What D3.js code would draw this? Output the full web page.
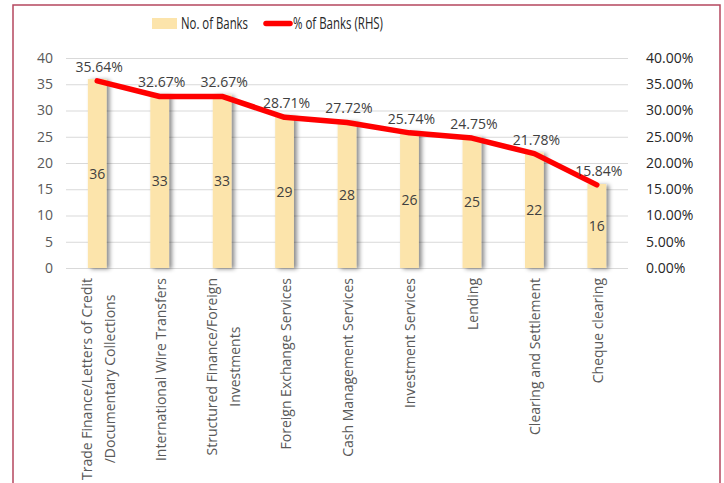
<!DOCTYPE html>
<html>
<head>
<meta charset="utf-8">
<script src="https://cdn.jsdelivr.net/npm/d3@7"></script>
<style>
    body { margin: 0; background: #fff; }
    svg { display: block; font-family: "Open Sans", sans-serif; }
</style>
</head>
<body>
<svg id="vis" width="724" height="483"></svg>
<script>
// services offered, number of banks and share of banks
const categories = [
    ["Trade Finance/Letters of Credit", "/Documentary Collections"],
    ["International Wire Transfers"],
    ["Structured Finance/Foreign", "Investments"],
    ["Foreign Exchange Services"],
    ["Cash Management Services"],
    ["Investment Services"],
    ["Lending"],
    ["Clearing and Settlement"],
    ["Cheque clearing"]
];
const banks = [36, 33, 33, 29, 28, 26, 25, 22, 16];
const pctBanks = [35.64, 32.67, 32.67, 28.71, 27.72, 25.74, 24.75, 21.78, 15.84];
const leftTicks = [0, 5, 10, 15, 20, 25, 30, 35, 40];
const rightTicks = [0, 5, 10, 15, 20, 25, 30, 35, 40];

const svg = d3.select('#vis');
const plot = {left: 66, right: 628, top: 58, bottom: 268};
const barColor = "#FCE4AB";
const lineColor = "#FF0000";

// frame
svg.append("rect")
    .attr("x", 13).attr("y", 5)
    .attr("width", 707).attr("height", 490)
    .attr("fill", "none")
    .attr("stroke", "#B5475F")
    .attr("stroke-width", 1.5);

const defs = svg.append("defs");
defs.append("filter")
    .attr("id", "shadow")
    .attr("x", "-50%").attr("y", "-10%")
    .attr("width", "200%").attr("height", "120%")
    .append("feDropShadow")
    .attr("dx", 3).attr("dy", 1)
    .attr("stdDeviation", 2)
    .attr("flood-color", "#000")
    .attr("flood-opacity", 0.45);

const x = d3.scaleBand()
    .domain(d3.range(categories.length))
    .range([plot.left, plot.right])
    .paddingInner(0.7)
    .paddingOuter(0.35);

const yLeft = d3.scaleLinear().domain([0, 40]).range([plot.bottom, plot.top]);
const yRight = d3.scaleLinear().domain([0, 40]).range([plot.bottom, plot.top]);

// gridlines
svg.append("g")
    .selectAll("line")
    .data(leftTicks)
    .enter().append("line")
    .attr("x1", plot.left).attr("x2", plot.right)
    .attr("y1", d => yLeft(d) + 0.5).attr("y2", d => yLeft(d) + 0.5)
    .attr("stroke", "#D9D9D9")
    .attr("stroke-width", 1);

// left axis
const axL = svg.append("g")
    .attr("transform", "translate(53,0)")
    .call(d3.axisLeft(yLeft).tickValues(leftTicks).tickSize(0).tickPadding(0));
axL.select(".domain").remove();
axL.selectAll("text")
    .attr("font-family", "Open Sans")
    .attr("font-size", 14)
    .attr("fill", "#595959");

// right axis
const axR = svg.append("g")
    .attr("transform", "translate(646,0)")
    .call(d3.axisRight(yRight).tickValues(rightTicks).tickSize(0).tickPadding(0)
        .tickFormat(d => d.toFixed(2) + "%"));
axR.select(".domain").remove();
axR.selectAll("text")
    .attr("font-family", "Open Sans")
    .attr("font-size", 14)
    .attr("fill", "#262626");

// bars
svg.append("g")
    .selectAll("rect")
    .data(banks)
    .enter().append("rect")
    .attr("x", (d, i) => x(i))
    .attr("y", d => yLeft(d))
    .attr("width", x.bandwidth())
    .attr("height", d => yLeft(0) - yLeft(d))
    .attr("fill", barColor)
    .attr("filter", "url(#shadow)");

// bar values
svg.append("g")
    .selectAll("text")
    .data(banks)
    .enter().append("text")
    .attr("x", (d, i) => x(i) + x.bandwidth() / 2)
    .attr("y", d => yLeft(d / 2) + 5)
    .attr("text-anchor", "middle")
    .attr("font-size", 14)
    .attr("fill", "#404040")
    .text(d => d);

// line
const line = d3.line()
    .x((d, i) => x(i) + x.bandwidth() / 2)
    .y(d => yRight(d));

svg.append("path")
    .datum(pctBanks)
    .attr("d", line)
    .attr("fill", "none")
    .attr("stroke", lineColor)
    .attr("stroke-width", 5.5)
    .attr("stroke-linecap", "round")
    .attr("stroke-linejoin", "round");

// line values
svg.append("g")
    .selectAll("text")
    .data(pctBanks)
    .enter().append("text")
    .attr("x", (d, i) => x(i) + x.bandwidth() / 2 + 2)
    .attr("y", d => yRight(d) - 9)
    .attr("text-anchor", "middle")
    .attr("font-size", 14)
    .attr("fill", "#404040")
    .text(d => d.toFixed(2) + "%");

// category labels, rotated
const labelTop = 278;
const lineGap = 23;
const labels = svg.append("g")
    .selectAll("g")
    .data(categories)
    .enter().append("g");

labels.each(function (lines, i) {
    const g = d3.select(this);
    const cx = x(i) + x.bandwidth() / 2;
    const texts = g.selectAll("text")
        .data(lines)
        .enter().append("text")
        .attr("font-size", 14)
        .attr("fill", "#595959")
        .attr("text-anchor", "middle")
        .text(d => d);
    let maxLen = 0;
    texts.each(function () {
        maxLen = Math.max(maxLen, this.getComputedTextLength());
    });
    const cy = labelTop + maxLen / 2;
    texts.attr("transform", function (d, j) {
        const off = (j - (lines.length - 1) / 2) * lineGap;
        return "translate(" + (cx + off + 6) + "," + cy + ") rotate(-90)";
    });
});

// legend
const legend = svg.append("g")
    .attr("font-size", 15.5)
    .attr("fill", "#262626");
legend.append("rect")
    .attr("x", 152).attr("y", 18)
    .attr("width", 25).attr("height", 11)
    .attr("fill", barColor);
legend.append("text")
    .attr("x", 181).attr("y", 29)
    .attr("textLength", 67)
    .attr("lengthAdjust", "spacingAndGlyphs")
    .text("No. of Banks");
legend.append("line")
    .attr("x1", 266).attr("x2", 290)
    .attr("y1", 23.5).attr("y2", 23.5)
    .attr("stroke", lineColor)
    .attr("stroke-width", 5.5)
    .attr("stroke-linecap", "round");
legend.append("text")
    .attr("x", 293).attr("y", 29)
    .attr("textLength", 90)
    .attr("lengthAdjust", "spacingAndGlyphs")
    .text("% of Banks (RHS)");
</script>
</body>
</html>
